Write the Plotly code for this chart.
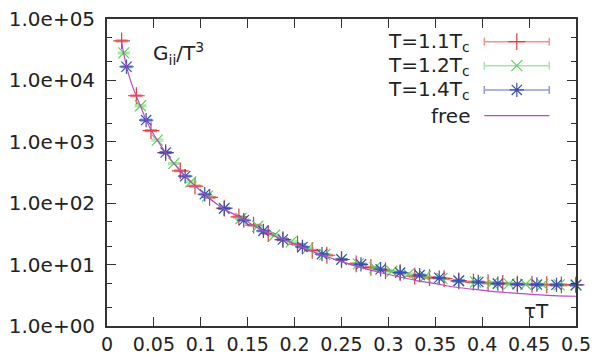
import plotly.graph_objects as go

# ---------------- data ----------------
red_x = [0.0156, 0.0313, 0.0469, 0.0625, 0.0781, 0.0938, 0.1094, 0.125, 0.1406, 0.1563,
         0.1719, 0.1875, 0.2031, 0.2188, 0.2344, 0.25, 0.2656, 0.2813, 0.2969, 0.3125,
         0.3281, 0.3438, 0.3594, 0.375, 0.3906, 0.4063, 0.4219, 0.4375, 0.4531, 0.4688,
         0.4844, 0.5]
red_y = [44000, 5620, 1520, 667, 337, 190, 124, 83, 59.8, 43.8,
         32.1, 25.5, 21.5, 17.1, 14.2, 12.1, 10.3, 9.0, 8.0, 7.4,
         6.5, 6.15, 5.9, 5.45, 5.2, 5.02, 4.95, 4.8, 4.75, 4.7,
         4.68, 4.66]

green_x = [0.0179, 0.0357, 0.0536, 0.0714, 0.0893, 0.1071, 0.125, 0.1429, 0.1607, 0.1786,
           0.1964, 0.2143, 0.2321, 0.25, 0.2679, 0.2857, 0.3036, 0.3214, 0.3393, 0.3571,
           0.375, 0.3929, 0.4107, 0.4286, 0.4464, 0.4643, 0.4821, 0.5]
green_y = [28000, 3860, 1065, 444, 223, 130, 83, 56.4, 42.2, 30.1,
           23.5, 18.5, 14.6, 12.2, 10.3, 8.9, 7.8, 7.0, 6.4, 5.95,
           5.5, 5.2, 5.0, 4.85, 4.78, 4.72, 4.68, 4.66]

blue_x = [0.0208, 0.0417, 0.0625, 0.0833, 0.1042, 0.125, 0.1458, 0.1667, 0.1875, 0.2083,
          0.2292, 0.25, 0.2708, 0.2917, 0.3125, 0.3333, 0.3542, 0.375, 0.3958, 0.4167,
          0.4375, 0.4583, 0.4792, 0.5]
blue_y = [16700, 2256, 668, 275, 140, 82, 52.8, 35.4, 25.6, 19.4,
          14.8, 12.1, 10.1, 8.4, 7.4, 6.75, 6.1, 5.42, 5.2, 4.9,
          4.78, 4.73, 4.68, 4.66]

free_x = [0.0156, 0.018, 0.021, 0.025, 0.03, 0.035, 0.04, 0.045, 0.05, 0.055,
          0.0625, 0.07, 0.08, 0.09, 0.1, 0.11, 0.125, 0.14, 0.155, 0.17,
          0.185, 0.2, 0.215, 0.23, 0.25, 0.27, 0.29, 0.31, 0.33, 0.35,
          0.37, 0.39, 0.41, 0.43, 0.45, 0.47, 0.49, 0.5]
free_y = [42000, 26500, 16500, 10000, 6200, 4050, 2620, 1780, 1300, 990,
          670, 472, 313, 218, 158, 118, 80, 61, 44.5, 33.4,
          26.7, 21.8, 17.2, 14.2, 11.2, 9.0, 7.5, 6.4, 5.5, 4.9,
          4.32, 3.98, 3.67, 3.47, 3.3, 3.16, 3.07, 3.05]

rel_err_percent = 3  # small statistical errors

labels = ["T=1.1T<sub>c</sub>", "T=1.2T<sub>c</sub>", "T=1.4T<sub>c</sub>", "free"]

y_tickvals = [1, 10, 100, 1000, 10000, 100000]
y_ticktext = ["1.0e+00", "1.0e+01", "1.0e+02", "1.0e+03", "1.0e+04", "1.0e+05"]
y_minor = [2, 5, 20, 50, 200, 500, 2000, 5000, 20000, 50000]
x_tickvals = [0, 0.05, 0.1, 0.15, 0.2, 0.25, 0.3, 0.35, 0.4, 0.45, 0.5]
x_ticktext = ["0", "0.05", "0.1", "0.15", "0.2", "0.25", "0.3", "0.35", "0.4", "0.45", "0.5"]

# ---------------- styles ----------------
FONT = "DejaVu Sans"
FS = 20
TXT = "#222222"
AX = "#333333"
styles = [
    dict(color="#e33b3b", err="rgba(227,59,59,0.55)", symbol="cross-thin-open", size=12),
    dict(color="#5ccf5c", err="rgba(92,207,92,0.55)", symbol="x-thin-open", size=11),
    dict(color="#3a4db0", err="rgba(58,77,176,0.55)", symbol="asterisk-open", size=12),
]
FREE_COLOR = "#b84cc4"

fig = go.Figure()

series = [(red_x, red_y), (green_x, green_y), (blue_x, blue_y)]
for (xs, ys), st in zip(series, styles):
    fig.add_trace(go.Scatter(
        x=xs, y=ys, mode="markers", cliponaxis=False, showlegend=False,
        marker=dict(symbol=st["symbol"], size=st["size"], color=st["color"],
                    line=dict(color=st["color"], width=1.2)),
        error_y=dict(type="percent", value=rel_err_percent, color=st["err"],
                     thickness=1.5, width=6),
    ))

fig.add_trace(go.Scatter(
    x=free_x, y=free_y, mode="lines", showlegend=False,
    line=dict(color=FREE_COLOR, width=1.2, shape="spline"),
))

# ---------------- gnuplot-like key (drawn on an overlay axis) ----------------
row_y = [0.926, 0.848, 0.769, 0.685]
key_cx = 0.8738
key_half = 0.0693
for i, st in enumerate(styles):
    fig.add_trace(go.Scatter(
        x=[key_cx], y=[row_y[i]], xaxis="x2", yaxis="y2", mode="markers",
        showlegend=False, cliponaxis=False,
        marker=dict(symbol=st["symbol"], size=st["size"], color=st["color"],
                    line=dict(color=st["color"], width=1.2)),
        error_x=dict(type="constant", value=key_half, color=st["err"],
                     thickness=1.5, width=4),
    ))
fig.add_trace(go.Scatter(
    x=[key_cx - key_half, key_cx + key_half], y=[row_y[3], row_y[3]],
    xaxis="x2", yaxis="y2", mode="lines", showlegend=False,
    line=dict(color=FREE_COLOR, width=1.2),
))

annotations = []
for i, lab in enumerate(labels):
    annotations.append(dict(
        x=0.778, y=row_y[i], xref="x domain", yref="y domain", text=lab,
        showarrow=False, xanchor="right", yanchor="middle",
        font=dict(family=FONT, size=FS, color=TXT),
    ))
annotations.append(dict(
    x=0.094, y=0.886, xref="x domain", yref="y domain",
    text="G<sub>ii</sub>/T<sup>3</sup>", showarrow=False,
    xanchor="left", yanchor="middle", font=dict(family=FONT, size=FS, color=TXT),
))
annotations.append(dict(
    x=0.947, y=0.05, xref="x domain", yref="y domain", text="τT", showarrow=False,
    xanchor="right", yanchor="middle", font=dict(family=FONT, size=FS, color=TXT),
))

fig.update_layout(
    width=596, height=356,
    margin=dict(l=107, r=20, t=19, b=30, autoexpand=False),
    paper_bgcolor="white", plot_bgcolor="white",
    font=dict(family=FONT, size=FS, color=TXT),
    showlegend=False,
    annotations=annotations,
    xaxis=dict(
        range=[0, 0.5], tickmode="array", tickvals=x_tickvals, ticktext=x_ticktext,
        tickfont=dict(family=FONT, size=19, color=TXT),
        ticks="inside", ticklen=9, tickwidth=1.3, tickcolor=AX,
        showline=True, linecolor=AX, linewidth=1.8, mirror="ticks",
        showgrid=False, zeroline=False, ticklabelstandoff=0, automargin=False,
    ),
    yaxis=dict(
        type="log", range=[0, 5], tickmode="array", tickvals=y_tickvals, ticktext=y_ticktext,
        ticks="inside", ticklen=9, tickwidth=1.3, tickcolor=AX,
        showline=True, linecolor=AX, linewidth=1.8, mirror="ticks",
        showgrid=False, zeroline=False, ticklabelstandoff=6, automargin=False,
        minor=dict(tickmode="array", tickvals=y_minor, ticks="inside", ticklen=5,
                   tickwidth=1.3, tickcolor=AX, showgrid=False),
    ),
    xaxis2=dict(overlaying="x", range=[0, 1], visible=False, fixedrange=True),
    yaxis2=dict(overlaying="y", range=[0, 1], visible=False, fixedrange=True),
)

fig.write_html("out.html")
